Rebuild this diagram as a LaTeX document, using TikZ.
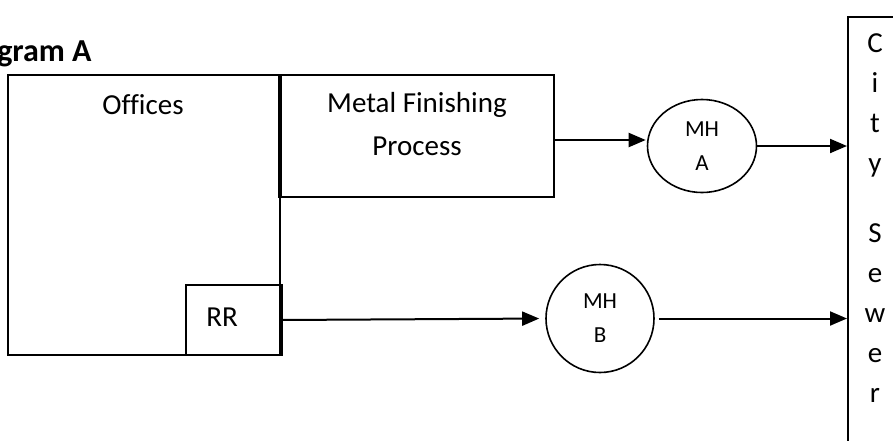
\documentclass[tikz,border=0pt]{standalone}
\usepackage{fontspec}
\setmainfont{Carlito}[Ligatures=CommonOff]
\usetikzlibrary{shapes.geometric, positioning, arrows.meta}

\begin{document}
\begin{tikzpicture}[x=0.5pt, y=-0.5pt,
    box/.style={draw, line width=1pt, rectangle, inner sep=0pt},
    hole/.style={draw, line width=0.8pt, ellipse, inner sep=0pt, align=center, font=\fontsize{11.5}{17}\selectfont},
    lbl/.style={inner sep=0pt, align=center, font=\fontsize{14.5}{21.5}\selectfont},
    flow/.style={-{Triangle[length=8.5pt, width=7pt]}, line width=1pt}]
    \useasboundingbox (0,0) rectangle (893,440);

    % Title
    \node[anchor=base east, inner sep=0pt, font=\bfseries\fontsize{16}{18}\selectfont] (title) at (92,61) {Diagram A};

    % Buildings
    \node[box, minimum width=136pt, minimum height=140pt] (ofc) at (144,215) {};
    \node[box, minimum width=136.5pt, minimum height=61pt] (metal) at (417.5,136) {};
    \node[box, minimum width=47pt, minimum height=35pt] (rr) at (233,320) {};
    \node[box, minimum width=41pt, minimum height=226.5pt] (sewer) at (889,243.5) {};
    \draw[line width=2pt] (metal.north west) -- (metal.south west);
    \draw[line width=1.8pt] (rr.north east) -- (rr.south east);

    % Labels
    \node[lbl] (ofctxt) at (143,105) {Offices};
    \node[lbl] (metaltxt) at (417,124) {Metal Finishing\\Process};
    \node[lbl] (rrtxt) at (222,317) {RR};
    \node[lbl, anchor=north, font=\fontsize{14.5}{20}\selectfont] (sewertxt) at (875,33) {C\\i\\t\\y\\[15pt]S\\e\\w\\e\\r};

    % Manholes
    \node[hole, minimum width=54.5pt, minimum height=46.5pt] (mha) at (702,146) {MH\\A};
    \node[hole, minimum size=54pt] (mhb) at (600,318.5) {MH\\B};

    % Flows
    \draw[flow, shorten >=0.5pt] ([yshift=-2pt]metal.east) -- ([yshift=-2pt]metal.east -| mha.west);
    \draw[flow] (mha.east) -- (mha.east -| sewer.west);
    \draw[flow, shorten >=3pt] (rr.east) -- (mhb.west);
    \draw[flow, shorten <=2pt] (mhb.east) -- (mhb.east -| sewer.west);
\end{tikzpicture}
\end{document}
